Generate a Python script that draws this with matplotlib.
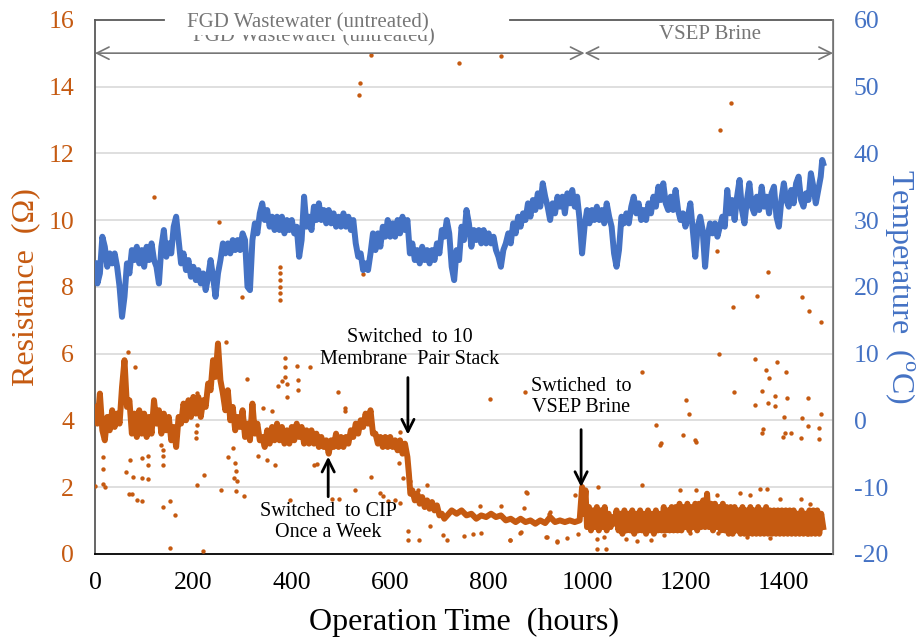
import matplotlib
matplotlib.use('Agg')
import matplotlib.pyplot as plt

plt.rcParams['font.family'] = ['Liberation Serif', 'DejaVu Serif']
plt.rcParams['mathtext.fontset'] = 'custom'
plt.rcParams['mathtext.rm'] = 'Liberation Serif'
plt.rcParams['axes.unicode_minus'] = False

ORANGE = '#C55A11'
BLUE = '#4472C4'
GRAY = '#767676'

# resistance band (hours, ohm)
res_hours = [0, 5, 10, 15, 20, 25, 30, 35, 40, 45, 50, 55, 60, 65, 70, 75, 80, 85, 90, 95,
             100, 105, 110, 115, 120, 125, 130, 135, 140, 145, 150, 155, 160, 165, 170, 175, 180, 185, 190, 195,
             200, 205, 210, 215, 220, 225, 230, 235, 240, 245, 250, 255, 260, 265, 270, 275, 280, 285, 290, 295,
             300, 305, 310, 315, 320, 325, 330, 335, 340, 345, 350, 355, 360, 365, 370, 375, 380, 385, 390, 395,
             400, 405, 410, 415, 420, 425, 430, 435, 440, 445, 450, 455, 460, 465, 470, 475, 480, 485, 490, 495,
             500, 505, 510, 515, 520, 525, 530, 535, 540, 545, 550, 555, 560, 565, 570, 575, 580, 585, 590, 595,
             600, 605, 610, 615, 620, 625, 630, 635, 638, 641, 645, 650, 655, 660, 665, 670, 675, 680, 685, 690,
             695, 700, 705, 710, 725, 735, 745, 755, 765, 775, 785, 795, 805, 815, 825, 835, 845, 855, 865, 875,
             885, 895, 905, 915, 925, 935, 945, 955, 965, 975, 985, 990, 993, 997,
             1000, 1004, 1008, 1012, 1016, 1020, 1024, 1028, 1032, 1036, 1040, 1044, 1048, 1052, 1056, 1060,
             1064, 1068, 1072, 1076, 1080, 1084, 1088, 1092, 1096, 1100, 1104, 1108, 1112, 1116, 1120, 1124,
             1128, 1132, 1136, 1140, 1144, 1148, 1152, 1156, 1160, 1164, 1168, 1172, 1176, 1180, 1184, 1188,
             1192, 1196, 1200, 1204, 1208, 1212, 1216, 1220, 1224, 1228, 1232, 1236, 1240, 1244, 1248, 1252,
             1256, 1260, 1264, 1268, 1272, 1276, 1280, 1284, 1288, 1292, 1296, 1300, 1304, 1308, 1312, 1316,
             1320, 1324, 1328, 1332, 1336, 1340, 1344, 1348, 1352, 1356, 1360, 1364, 1368, 1372, 1376, 1380,
             1384, 1388, 1392, 1396, 1400, 1404, 1408, 1412, 1416, 1420, 1424, 1428, 1432, 1436, 1440, 1444,
             1448, 1452, 1456, 1460, 1464, 1468, 1472, 1476, 1480]
res_ohm = [4.4, 3.9, 4.8, 3.7, 3.4, 4.1, 3.7, 4.3, 3.8, 4.2, 3.9, 5.0, 5.8, 4.4, 4.6, 3.6, 4.2, 3.5, 4.3, 3.6,
           4.2, 3.5, 4.1, 3.6, 4.6, 3.9, 4.3, 3.6, 4.2, 3.7, 4.1, 3.4, 3.8, 3.2, 4.1, 3.9, 4.5, 4.0, 4.6, 4.1,
           4.7, 4.2, 4.7, 4.1, 4.6, 4.4, 5.1, 4.9, 5.8, 5.3, 6.3, 5.2, 4.8, 4.3, 4.9, 4.0, 4.4, 3.7, 4.1, 3.8,
           4.3, 3.5, 3.9, 3.4, 4.5, 3.6, 3.9, 3.4, 3.5, 3.2, 3.7, 3.3, 3.8, 3.4, 3.9, 3.4, 3.8, 3.3, 3.7, 3.3,
           3.8, 3.4, 3.9, 3.5, 3.8, 3.3, 3.7, 3.3, 3.7, 3.3, 3.6, 3.2, 3.5, 3.2, 3.4, 3.0, 3.4, 3.2, 3.6, 3.2,
           3.5, 3.2, 3.5, 3.3, 3.7, 3.5, 3.9, 3.6, 4.0, 3.8, 4.2, 3.9, 4.3, 3.6, 3.6, 3.3, 3.5, 3.2, 3.5, 3.2,
           3.5, 3.2, 3.4, 3.1, 3.4, 3.0, 3.3, 2.9, 2.4, 1.8, 1.9, 1.6, 1.8, 1.5, 1.7, 1.4, 1.6, 1.35, 1.55, 1.3,
           1.45, 1.15, 1.2, 1.05, 1.3, 1.2, 1.3, 1.15, 1.2, 1.05, 1.15, 1.1, 1.2, 1.1, 1.15, 1.0, 1.05, 0.95, 1.05, 0.95,
           1.0, 0.9, 1.0, 0.92, 1.1, 0.95, 1.0, 0.95, 1.0, 0.95, 1.0, 2.0, 1.2, 1.9,
           0.8, 1.4, 0.7, 1.3, 0.8, 1.4, 0.7, 1.3, 0.8, 1.4, 0.7, 1.2, 0.8, 1.1, 0.9, 1.3,
           0.7, 1.2, 0.6, 1.3, 0.7, 1.2, 0.7, 1.3, 0.6, 1.2, 0.7, 1.3, 0.7, 1.2, 0.6, 1.3,
           0.7, 1.2, 0.6, 1.3, 0.7, 1.2, 0.7, 1.4, 0.7, 1.3, 0.7, 1.4, 0.7, 1.4, 0.7, 1.5,
           0.7, 1.4, 0.8, 1.5, 0.7, 1.4, 0.8, 1.5, 0.7, 1.5, 0.8, 1.6, 0.8, 1.8, 0.8, 1.5,
           0.7, 1.5, 0.8, 1.4, 0.7, 1.5, 0.7, 1.4, 0.6, 1.4, 0.6, 1.4, 0.7, 1.3, 0.6, 1.4,
           0.6, 1.3, 0.6, 1.4, 0.6, 1.3, 0.6, 1.4, 0.6, 1.3, 0.6, 1.4, 0.6, 1.3, 0.6, 1.3,
           0.6, 1.3, 0.6, 1.3, 0.6, 1.3, 0.6, 1.3, 0.6, 1.3, 0.6, 1.2, 0.6, 1.3, 0.6, 1.2,
           0.6, 1.3, 0.6, 1.3, 0.6, 1.3, 0.6, 1.2, 0.8]

# scattered resistance readings away from the band
out_hours = [561, 539, 537, 740, 825, 120, 252, 298, 376, 376, 376, 376, 376, 376, 545,
             1293, 1271, 1264, 1368, 1345, 1297, 1437, 1452, 1476,
             1268, 1342, 1386, 1364, 1404, 1369, 1111, 1298, 1356, 1383, 1407, 1450, 1201, 1342, 1367, 1382,
             874, 803, 1208, 1475, 1401, 1436, 1141, 1450, 1472, 1357, 1355, 1403, 1414, 1399, 1434, 1472,
             1196, 1219, 1222, 1151, 1148,
             1020, 1039, 1021, 1035, 1080, 1101, 1131, 1157, 1189, 1222, 1112, 1023, 877, 976, 843, 864,
             918, 940, 959, 982, 750, 769, 785, 1352, 1366, 1311, 1331, 1392, 1434, 1453, 1264, 1372, 1419,
             1450, 1325, 1267, 1210, 783, 826, 871, 925,
             494, 509, 509, 620, 618, 560, 528, 579, 586, 596, 610, 620, 627, 640, 657, 674, 637, 637, 659,
             681, 707, 716, 878, 844, 865, 922, 917, 938,
             68, 81, 266, 386, 386, 386, 410, 437, 380, 373, 390, 390, 413, 413, 308, 0, 17, 20, 17, 17,
             71, 70, 63, 78, 75, 85, 95, 95, 108, 108, 95, 108, 134, 139, 139, 138, 153, 138, 163, 153,
             220, 208, 222, 205, 205, 208, 207, 271, 284, 286, 283, 288, 286, 302, 257, 281, 332, 349, 366,
             342, 359, 396, 445, 451, 481, 495]
out_ohm = [14.95, 14.1, 13.75, 14.7, 14.9, 10.7, 9.94, 7.7, 8.6, 8.4, 8.2, 8.0, 7.8, 7.6, 8.38,
           13.5, 12.7, 9.07, 8.43, 7.73, 7.38, 7.7, 7.26, 6.94,
           6.0, 5.83, 5.76, 5.51, 5.45, 5.26, 5.46, 4.85, 4.87, 4.73, 4.68, 4.68, 4.62, 4.47, 4.53, 4.43,
           4.85, 4.65, 4.19, 4.19, 4.1, 4.07, 3.85, 3.83, 3.76, 3.73, 3.61, 3.63, 3.63, 3.49, 3.46, 3.43,
           3.55, 3.41, 3.34, 3.33, 3.26,
           0.13, 0.15, 0.43, 0.49, 0.45, 0.39, 0.41, 0.55, 1.91, 1.91, 2.07, 2.01, 1.85, 1.76, 0.41, 0.63,
           0.5, 0.35, 0.47, 0.58, 0.53, 0.6, 0.63, 1.95, 1.93, 1.83, 1.76, 1.63, 1.65, 1.49, 1.75, 0.48, 0.63,
           0.58, 0.51, 0.63, 0.63, 1.43, 1.43, 1.38, 1.25,
           4.84, 4.37, 4.27, 3.64, 2.72, 2.29, 1.92, 1.82, 1.72, 1.57, 1.6, 1.52, 2.27, 2.17, 1.92, 2.07, 0.67, 0.42, 0.42,
           0.82, 0.57, 0.4, 1.82, 0.42, 0.64, 1.19, 0.49, 0.37,
           6.05, 5.59, 6.36, 5.87, 5.6, 5.3, 5.64, 5.6, 5.17, 5.02, 5.1, 4.7, 5.2, 4.9, 5.24, 2.02, 2.1, 2.0, 2.9, 2.55,
           2.8, 1.8, 2.45, 2.3, 1.8, 1.62, 1.57, 2.87, 2.92, 2.67, 2.27, 2.24, 3.27, 3.12, 2.94, 2.67, 1.57, 1.39, 1.17, 0.17,
           0.07, 2.07, 2.35, 3.64, 3.47, 3.87, 4.82, 2.9, 2.72, 2.47, 2.27, 2.17, 1.87, 1.72, 1.92, 3.17, 2.92, 2.82, 2.67,
           4.37, 4.27, 1.62, 2.67, 2.7, 1.64, 1.64]

# temperature trace (hours, deg C)
temp_hours = [0, 5, 10, 15, 20, 25, 30, 35, 40, 45, 50, 55, 60, 65, 70, 75, 80, 85, 90, 95,
              100, 105, 110, 115, 120, 125, 130, 135, 140, 145, 150, 155, 160, 165, 170, 175, 180, 185, 190, 195,
              200, 205, 210, 215, 220, 225, 230, 235, 240, 245, 250, 255, 260, 265, 270, 275, 280, 285, 290, 295,
              300, 305, 310, 315, 320, 325, 330, 335, 340, 345, 350, 355, 360, 365, 370, 375, 380, 385, 390, 395,
              400, 405, 410, 415, 420, 425, 430, 435, 440, 445, 450, 455, 460, 465, 470, 475, 480, 485, 490, 495,
              500, 505, 510, 515, 520, 525, 530, 535, 540, 545, 550, 555, 560, 565, 570, 575, 580, 585, 590, 595,
              600, 605, 610, 615, 620, 625, 630, 635, 640, 645, 650, 655, 660, 665, 670, 675, 680, 685, 690, 695,
              700, 705, 710, 715, 720, 725, 730, 735, 740, 745, 750, 755, 760, 765, 770, 775, 780, 785, 790, 795,
              800, 805, 810, 815, 820, 825, 830, 835, 840, 845, 850, 855, 860, 865, 870, 875, 880, 885, 890, 895,
              900, 905, 910, 915, 920, 925, 930, 935, 940, 945, 950, 955, 960, 965, 970, 975, 980, 985, 990, 995,
              1000, 1005, 1010, 1015, 1020, 1025, 1030, 1035, 1040, 1045, 1050, 1055, 1060, 1065, 1070, 1075,
              1080, 1085, 1090, 1095, 1100, 1105, 1110, 1115, 1120, 1125, 1130, 1135, 1140, 1145, 1150, 1155,
              1160, 1165, 1170, 1175, 1180, 1185, 1190, 1195, 1200, 1205, 1210, 1215, 1220, 1225, 1230, 1235,
              1240, 1245, 1250, 1255, 1260, 1265, 1270, 1275, 1280, 1285, 1290, 1295, 1300, 1305, 1310, 1315,
              1320, 1325, 1330, 1335, 1340, 1345, 1350, 1355, 1360, 1365, 1370, 1375, 1380, 1385, 1390, 1395,
              1400, 1405, 1410, 1415, 1420, 1425, 1430, 1435, 1440, 1445, 1450, 1455, 1460, 1465, 1470, 1475,
              1478, 1480]
temp_c = [23.5, 20.5, 22.0, 27.5, 26.0, 23.0, 25.0, 23.5, 25.0, 23.0, 20.0, 15.5, 18.5, 23.5, 22.0, 25.5, 24.0, 26.0, 23.5, 25.5,
          23.0, 26.0, 24.0, 26.5, 24.0, 23.0, 20.5, 26.0, 28.5, 24.5, 26.5, 25.0, 29.0, 30.5, 27.0, 23.5, 25.0, 22.5, 24.0, 21.5,
          23.0, 21.0, 22.5, 20.5, 22.0, 19.5, 21.5, 24.0, 21.5, 18.5, 22.0, 24.0, 26.5, 25.0, 26.5, 25.0, 27.0, 25.5, 27.0, 25.5,
          28.0, 27.0, 20.0, 19.5, 27.0, 29.5, 28.0, 31.0, 32.5, 30.0, 31.5, 29.0, 30.5, 28.5, 30.5, 28.5, 30.5, 28.0, 30.0, 28.5,
          30.0, 28.0, 29.0, 24.5, 27.0, 33.5, 29.0, 30.5, 28.5, 32.0, 30.0, 32.5, 30.0, 31.5, 29.5, 31.5, 29.5, 31.0, 29.0, 30.5,
          29.0, 31.0, 29.0, 30.5, 28.5, 30.0, 26.5, 24.5, 25.0, 22.5, 23.5, 22.5, 25.0, 28.0, 25.5, 28.0, 26.0, 29.0, 27.5, 30.0,
          27.5, 29.5, 27.5, 30.0, 28.0, 30.5, 28.5, 30.0, 25.0, 26.5, 24.0, 25.5, 23.5, 26.0, 24.0, 25.5, 23.5, 25.5, 24.0, 26.5,
          25.0, 28.5, 27.5, 30.0, 28.0, 23.0, 21.0, 25.5, 24.0, 29.0, 27.0, 31.5, 29.5, 26.0, 28.5, 27.0, 28.5, 26.5, 28.5, 26.5,
          28.0, 26.5, 27.5, 25.5, 24.5, 23.0, 25.5, 26.5, 28.0, 26.5, 29.5, 28.0, 30.5, 29.0, 31.0, 30.0, 32.5, 30.5, 33.0, 31.5,
          34.0, 32.0, 35.5, 33.5, 32.0, 30.0, 32.5, 31.0, 33.5, 32.0, 33.5, 31.0, 34.0, 32.5, 34.5, 32.0, 33.5, 30.0, 25.0, 29.0,
          31.5, 29.5, 31.5, 30.0, 32.0, 30.0, 31.5, 29.5, 32.5, 30.5, 29.0, 25.0, 23.0, 25.5, 30.5, 29.5,
          31.0, 29.5, 32.0, 33.5, 31.0, 32.5, 30.0, 31.5, 30.0, 32.5, 31.0, 33.5, 32.0, 35.0, 33.0, 35.5,
          32.5, 31.5, 33.5, 31.5, 34.5, 31.5, 30.0, 31.0, 29.0, 30.5, 32.5, 28.5, 24.5, 29.0, 30.5, 28.5,
          23.0, 27.5, 29.5, 28.0, 29.5, 27.5, 29.0, 30.5, 29.0, 34.5, 31.0, 33.0, 30.0, 33.5, 36.0, 31.5,
          29.5, 33.0, 35.5, 32.0, 31.0, 33.5, 31.5, 35.0, 32.0, 33.5, 31.0, 34.0, 35.0, 30.5, 29.0, 33.0,
          35.5, 33.0, 32.0, 34.5, 32.5, 35.5, 36.5, 33.0, 32.0, 34.0, 33.0, 37.0, 35.0, 32.5, 34.5, 36.5,
          39.0, 38.5]

fig = plt.figure(figsize=(9.22, 6.38), dpi=100)
ax = fig.add_axes([0.103, 0.132, 0.8005, 0.837])
ax2 = ax.twinx()

ax.set_xlim(0, 1500)
ax.set_ylim(0, 16)
ax2.set_ylim(-20, 60)

for y in range(2, 16, 2):
    ax.axhline(y, color='#d9d9d9', lw=1.2, zorder=0)

ax.plot(res_hours, res_ohm, color=ORANGE, lw=4.3, solid_joinstyle='round', zorder=3)
ax.scatter(out_hours, out_ohm, s=10, color=ORANGE, zorder=3, linewidths=0)
ax2.plot(temp_hours, temp_c, color=BLUE, lw=4.3, solid_joinstyle='round', zorder=3)

ax.set_xticks(range(0, 1401, 200))
ax.set_yticks(range(0, 17, 2))
ax2.set_yticks(range(-20, 61, 10))
ax.tick_params(axis='x', length=0, pad=13, labelsize=18.5, colors='black')
ax.tick_params(axis='y', length=0, pad=15, labelsize=18.5, colors=ORANGE)
ax2.tick_params(axis='y', length=0, pad=15, labelsize=18.5, colors=BLUE)

for a in (ax, ax2):
    a.spines['top'].set_visible(False)
ax.spines['left'].set_color('#595959')
ax.spines['left'].set_linewidth(1.3)
ax.spines['bottom'].set_color('black')
ax.spines['bottom'].set_linewidth(1.3)
ax2.spines['right'].set_color('#7f7f7f')
ax2.spines['right'].set_linewidth(1.3)
ax2.spines['left'].set_visible(False)
ax2.spines['bottom'].set_visible(False)

# top frame, broken by the label
ax.plot([0, 140], [16, 16], color='#595959', lw=1.3, clip_on=False, zorder=5)
ax.plot([843, 1500], [16, 16], color='#595959', lw=1.3, clip_on=False, zorder=5)

# period arrows
arr = dict(arrowstyle='<->', color=GRAY, lw=1.2, mutation_scale=22, shrinkA=0, shrinkB=0)
ax.annotate('', xy=(0, 15), xytext=(995, 15), arrowprops=arr, zorder=4)
ax.annotate('', xy=(995, 15), xytext=(1500, 15), arrowprops=arr, zorder=4)
ax.text(445, 15.5, 'FGD Wastewater (untreated)', ha='center', va='center', fontsize=15, color=GRAY, zorder=4)
ax.text(432, 15.9, 'FGD Wastewater (untreated)', ha='center', va='center', fontsize=15, color=GRAY, zorder=6,
        bbox=dict(facecolor='white', edgecolor='none', pad=2), clip_on=False)
ax.text(1250, 15.55, 'VSEP Brine', ha='center', va='center', fontsize=15, color=GRAY, zorder=4)

# event annotations
black = dict(arrowstyle='->', color='black', lw=2, mutation_scale=22, shrinkA=0, shrinkB=0)
ax.annotate('', xy=(636, 3.57), xytext=(636, 5.28), arrowprops=black, zorder=6)
ax.text(640, 6.15, 'Switched  to 10\nMembrane  Pair Stack', ha='center', va='center', fontsize=14.5,
        linespacing=1.15, zorder=6)
ax.annotate('', xy=(474, 2.91), xytext=(474, 1.71), arrowprops=black, zorder=6)
ax.text(474, 0.95, 'Switched  to CIP\nOnce a Week', ha='center', va='center', fontsize=14.5,
        linespacing=1.15, zorder=6)
ax.annotate('', xy=(988, 2.0), xytext=(988, 3.72), arrowprops=black, zorder=6)
ax.text(988, 4.7, 'Swtiched  to\nVSEP Brine', ha='center', va='center', fontsize=14.5,
        linespacing=1.15, zorder=6)

ax.set_xlabel('Operation Time  (hours)', fontsize=23, labelpad=10)
ax.set_ylabel('Resistance  (\u03a9)', fontsize=23, color=ORANGE, labelpad=6)
ax2.set_ylabel(r'Temperature  ($^{\mathrm{o}}$C)', fontsize=23, color=BLUE, rotation=270, labelpad=20)

fig.savefig('out.png', dpi=100)
